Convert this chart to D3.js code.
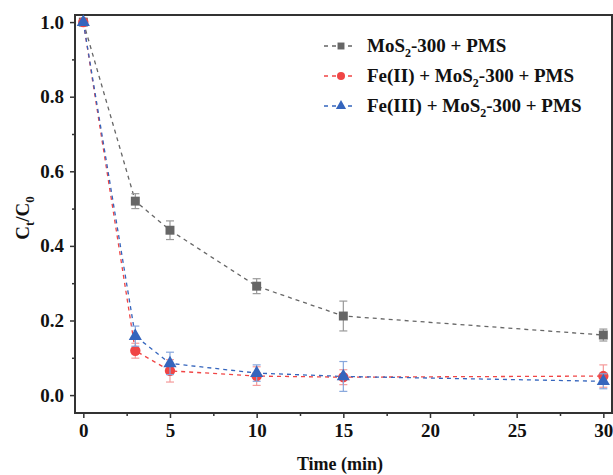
<!DOCTYPE html>
<html lang="en">
<head>
<meta charset="UTF-8">
<title>Ct/C0 vs time</title>
<script src="https://cdn.jsdelivr.net/npm/d3@7"></script>
<style>
body { margin: 0; background: #fff; }
text { font-family: "Liberation Serif", "Times New Roman", serif; font-weight: bold; fill: #111; }
</style>
</head>
<body>
<svg width="613" height="475"></svg>
<script>
// data
var times = [0, 3, 5, 10, 15, 30];
var mos2 = [1.0, 0.52, 0.442, 0.292, 0.212, 0.161];
var mos2Err = [0.005, 0.02, 0.025, 0.02, 0.04, 0.016];
var fe2 = [1.0, 0.119, 0.065, 0.051, 0.048, 0.051];
var fe2Err = [0.005, 0.02, 0.03, 0.025, 0.02, 0.03];
var fe3 = [1.0, 0.158, 0.085, 0.059, 0.05, 0.037];
var fe3Err = [0.005, 0.027, 0.03, 0.022, 0.04, 0.02];
var xTicks = [0, 5, 10, 15, 20, 25, 30];
var yTicks = [0.0, 0.2, 0.4, 0.6, 0.8, 1.0];

var series = [
    {name: ['MoS', '2', '-300 + PMS'], y: mos2, err: mos2Err, color: '#666666', errColor: '#999999', shape: d3.symbolSquare, size: 80},
    {name: ['Fe(II) + MoS', '2', '-300 + PMS'], y: fe2, err: fe2Err, color: '#f04545', errColor: '#f59a9a', shape: d3.symbolCircle, size: 85},
    {name: ['Fe(III) + MoS', '2', '-300 + PMS'], y: fe3, err: fe3Err, color: '#3565bd', errColor: '#86a6dc', shape: d3.symbolTriangle, size: 75}
];

var svg = d3.select('svg');
var pl = 75, pr = 612, pt = 15, pb = 413;
var x = d3.scaleLinear().domain([-0.48, 30.5]).range([pl, pr]);
var y = d3.scaleLinear().domain([-0.048, 1.019]).range([pb, pt]);

// axes
svg.append('g').attr('transform', 'translate(0,' + pb + ')')
    .call(d3.axisBottom(x).tickValues(xTicks).tickSize(5).tickPadding(6).tickFormat(d3.format('d')));
svg.append('g').attr('transform', 'translate(0,' + pb + ')')
    .call(d3.axisBottom(x).tickValues(d3.range(2.5, 30, 5)).tickSize(3).tickFormat(''));
svg.append('g').attr('transform', 'translate(' + pl + ',0)')
    .call(d3.axisLeft(y).tickValues(yTicks).tickSize(5).tickPadding(6).tickFormat(d3.format('.1f')));
svg.append('g').attr('transform', 'translate(' + pl + ',0)')
    .call(d3.axisLeft(y).tickValues([0.1, 0.3, 0.5, 0.7, 0.9]).tickSize(3).tickFormat(''));
svg.selectAll('.domain').remove();
svg.selectAll('.tick line').attr('stroke', '#333').attr('stroke-width', 1.5);
svg.selectAll('.tick text').style('font-size', '19px').attr('fill', '#111');

svg.append('rect').attr('x', pl).attr('y', pt).attr('width', pr - pl).attr('height', pb - pt)
    .attr('fill', 'none').attr('stroke', '#333').attr('stroke-width', 2);

// axis titles
svg.append('text').attr('x', 340).attr('y', 470).attr('text-anchor', 'middle')
    .style('font-size', '18px').text('Time (min)');
var yt = svg.append('text').attr('transform', 'translate(29,' + 218 + ') rotate(-90)').attr('text-anchor', 'middle')
    .style('font-size', '19px');
yt.append('tspan').text('C');
yt.append('tspan').attr('dy', 5).style('font-size', '13px').text('t');
yt.append('tspan').attr('dy', -5).text('/C');
yt.append('tspan').attr('dy', 5).style('font-size', '13px').text('0');

var line = d3.line().x(function(d) { return x(d[0]); }).y(function(d) { return y(d[1]); });

series.forEach(function(s) {
    var pts = times.map(function(t, i) { return [t, s.y[i], s.err[i]]; });
    svg.append('path').datum(pts).attr('d', line).attr('fill', 'none')
        .attr('stroke', s.color).attr('stroke-width', 1.3).attr('stroke-dasharray', '4,4');
});

series.forEach(function(s) {
    var pts = times.map(function(t, i) { return [t, s.y[i], s.err[i]]; });
    var g = svg.append('g');
    var eb = g.selectAll('.eb').data(pts.slice(1)).enter().append('g').attr('stroke', s.errColor).attr('stroke-width', 1.2);
    eb.append('line').attr('x1', function(d) { return x(d[0]); }).attr('x2', function(d) { return x(d[0]); })
        .attr('y1', function(d) { return y(d[1] - d[2]); }).attr('y2', function(d) { return y(d[1] + d[2]); });
    eb.append('line').attr('x1', function(d) { return x(d[0]) - 4; }).attr('x2', function(d) { return x(d[0]) + 4; })
        .attr('y1', function(d) { return y(d[1] + d[2]); }).attr('y2', function(d) { return y(d[1] + d[2]); });
    eb.append('line').attr('x1', function(d) { return x(d[0]) - 4; }).attr('x2', function(d) { return x(d[0]) + 4; })
        .attr('y1', function(d) { return y(d[1] - d[2]); }).attr('y2', function(d) { return y(d[1] - d[2]); });
    g.selectAll('.m').data(pts).enter().append('path')
        .attr('d', d3.symbol().type(s.shape).size(s.size))
        .attr('transform', function(d) { return 'translate(' + x(d[0]) + ',' + y(d[1]) + ')'; })
        .attr('fill', s.color);
});

// legend
var leg = svg.append('g');
series.forEach(function(s, i) {
    var ly = 46 + i * 30;
    leg.append('line').attr('x1', 324).attr('x2', 356).attr('y1', ly).attr('y2', ly)
        .attr('stroke', s.color).attr('stroke-width', 1.3).attr('stroke-dasharray', '4,4');
    leg.append('path').attr('d', d3.symbol().type(s.shape).size(s.size * 0.6))
        .attr('transform', 'translate(341,' + ly + ')').attr('fill', s.color);
    var t = leg.append('text').attr('x', 367).attr('y', ly + 6).style('font-size', '19px');
    t.append('tspan').text(s.name[0]);
    t.append('tspan').attr('dy', 5).style('font-size', '12px').text(s.name[1]);
    t.append('tspan').attr('dy', -5).text(s.name[2]);
});
</script>
</body>
</html>
